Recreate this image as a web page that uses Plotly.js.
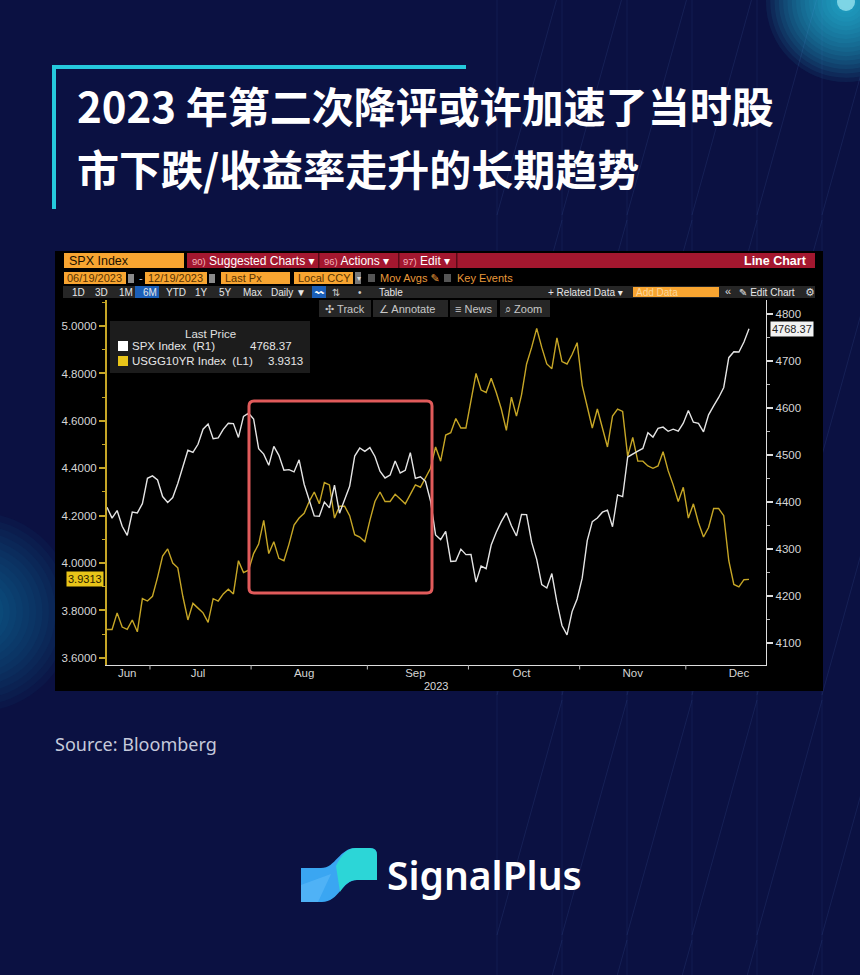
<!DOCTYPE html>
<html><head><meta charset="utf-8">
<script src="https://cdn.plot.ly/plotly-3.0.1.min.js"></script>
<style>html,body{margin:0;padding:0;background:#0b1142;overflow:hidden}#chart{width:860px;height:975px}</style>
</head><body><div id="chart"></div>
<script>
// ---------------- DATA ----------------
const dates = [
 '2023-06-20','2023-06-21','2023-06-22','2023-06-23','2023-06-26','2023-06-27','2023-06-28','2023-06-29','2023-06-30',
 '2023-07-03','2023-07-05','2023-07-06','2023-07-07','2023-07-10','2023-07-11','2023-07-12','2023-07-13','2023-07-14','2023-07-17','2023-07-18','2023-07-19','2023-07-20','2023-07-21','2023-07-24','2023-07-25','2023-07-26','2023-07-27','2023-07-28','2023-07-31',
 '2023-08-01','2023-08-02','2023-08-03','2023-08-04','2023-08-07','2023-08-08','2023-08-09','2023-08-10','2023-08-11','2023-08-14','2023-08-15','2023-08-16','2023-08-17','2023-08-18','2023-08-21','2023-08-22','2023-08-23','2023-08-24','2023-08-25','2023-08-28','2023-08-29','2023-08-30','2023-08-31',
 '2023-09-01','2023-09-05','2023-09-06','2023-09-07','2023-09-08','2023-09-11','2023-09-12','2023-09-13','2023-09-14','2023-09-15','2023-09-18','2023-09-19','2023-09-20','2023-09-21','2023-09-22','2023-09-25','2023-09-26','2023-09-27','2023-09-28','2023-09-29',
 '2023-10-02','2023-10-03','2023-10-04','2023-10-05','2023-10-06','2023-10-09','2023-10-10','2023-10-11','2023-10-12','2023-10-13','2023-10-16','2023-10-17','2023-10-18','2023-10-19','2023-10-20','2023-10-23','2023-10-24','2023-10-25','2023-10-26','2023-10-27','2023-10-30','2023-10-31',
 '2023-11-01','2023-11-02','2023-11-03','2023-11-06','2023-11-07','2023-11-08','2023-11-09','2023-11-10','2023-11-13','2023-11-14','2023-11-15','2023-11-16','2023-11-17','2023-11-20','2023-11-21','2023-11-22','2023-11-24','2023-11-27','2023-11-28','2023-11-29','2023-11-30',
 '2023-12-01','2023-12-04','2023-12-05','2023-12-06','2023-12-07','2023-12-08','2023-12-11','2023-12-12','2023-12-13','2023-12-14','2023-12-15','2023-12-18','2023-12-19'
];
const spx = [
 4388.71,4365.69,4381.89,4348.33,4328.82,4378.41,4376.86,4396.44,4450.38,
 4455.59,4446.82,4411.59,4398.95,4409.53,4439.26,4472.16,4510.04,4505.42,4522.79,4554.98,4565.72,4534.87,4536.34,4554.64,4567.46,4566.75,4537.41,4582.23,4588.96,
 4576.73,4513.39,4501.89,4478.03,4518.44,4499.38,4467.71,4468.83,4464.05,4489.72,4437.86,4404.33,4370.36,4369.71,4399.77,4387.55,4436.01,4376.31,4405.71,4433.31,4497.63,4514.87,4507.66,
 4515.77,4496.83,4465.48,4451.14,4457.49,4487.46,4461.90,4467.44,4505.10,4450.32,4453.53,4443.95,4402.20,4330.00,4320.06,4337.44,4273.53,4274.51,4299.70,4288.05,
 4288.39,4229.45,4263.75,4258.19,4308.50,4335.66,4358.24,4376.95,4349.61,4327.78,4373.63,4373.20,4314.60,4278.00,4224.16,4217.04,4247.68,4186.77,4137.23,4117.37,4166.82,4193.80,
 4237.86,4317.78,4358.34,4365.98,4378.38,4382.78,4347.35,4415.24,4411.55,4495.70,4502.88,4508.24,4514.02,4547.38,4538.19,4556.62,4559.34,4550.43,4554.89,4550.58,4567.80,
 4594.63,4569.78,4567.18,4549.34,4585.59,4604.37,4622.44,4643.70,4707.09,4719.55,4719.19,4740.56,4768.37
];
const ust10y = [
 3.72,3.72,3.79,3.73,3.72,3.76,3.71,3.85,3.84,
 3.86,3.94,4.03,4.06,4.00,3.98,3.86,3.76,3.83,3.81,3.79,3.75,3.85,3.84,3.87,3.89,3.87,4.01,3.96,3.97,
 4.04,4.08,4.18,4.04,4.09,4.02,4.01,4.08,4.16,4.19,4.21,4.26,4.30,4.25,4.34,4.33,4.19,4.24,4.24,4.20,4.12,4.11,4.09,
 4.18,4.26,4.30,4.26,4.26,4.29,4.27,4.25,4.29,4.33,4.32,4.36,4.40,4.49,4.43,4.54,4.55,4.61,4.57,4.57,
 4.68,4.80,4.73,4.72,4.78,4.72,4.65,4.56,4.70,4.62,4.71,4.84,4.91,4.99,4.91,4.84,4.82,4.95,4.85,4.84,4.88,4.93,
 4.75,4.66,4.57,4.65,4.57,4.49,4.62,4.65,4.64,4.45,4.53,4.43,4.43,4.41,4.40,4.41,4.47,4.39,4.33,4.26,4.32,
 4.19,4.25,4.17,4.11,4.15,4.23,4.23,4.20,4.01,3.91,3.90,3.93,3.9313
];
const seriesNames = ['SPX Index  (R1)', 'USGG10YR Index  (L1)'];
const monthNames = ['Jun','Jul','Aug','Sep','Oct','Nov','Dec'];
const yearLabel = '2023';
const titleLines = ['2023 年第二次降评或许加速了当时股', '市下跌/收益率走升的长期趋势'];
const sourceText = 'Source: Bloomberg';
const brandText = 'SignalPlus';

// ---------------- HELPERS ----------------
const W = 860, H = 975;
const X = p => p / W, Y = p => 1 - p / H;
const UI = 'Liberation Sans, Arial, DejaVu Sans, sans-serif';
const CJK = 'Noto Sans CJK SC, Noto Sans, sans-serif';
const shapes = [];
const anns = [];
function rect(x0, y0, x1, y1, fill, layer, line) {
  shapes.push({type:'rect', xref:'paper', yref:'paper', x0:X(x0), x1:X(x1), y0:Y(y1), y1:Y(y0),
    fillcolor:fill, line: line || {width:0}, layer: layer || 'above'});
}
function lineS(x0, y0, x1, y1, color, width, layer) {
  shapes.push({type:'line', xref:'paper', yref:'paper', x0:X(x0), x1:X(x1), y0:Y(y0), y1:Y(y1),
    line:{color:color, width:width}, layer: layer || 'below'});
}
function circ(cx, cy, r, fill, layer) {
  shapes.push({type:'circle', xref:'paper', yref:'paper', x0:X(cx-r), x1:X(cx+r), y0:Y(cy+r), y1:Y(cy-r),
    fillcolor:fill, line:{width:0}, layer: layer || 'below'});
}
function pathPx(cmds) {
  return cmds.map(c => c[0] + c.slice(1).map((v, i) => (i % 2 === 0 ? X(v) : Y(v)).toFixed(5)).join(',')).join(' ');
}
function txt(text, x, y, o) {
  o = o || {};
  anns.push({text:text, xref:'paper', yref:'paper', x:X(x), y:Y(y), xanchor:o.xa || 'left', yanchor:o.ya || 'middle',
    showarrow:false, font:{family:o.family || UI, size:o.size || 11, color:o.color || '#dddddd', weight:o.weight || 400},
    bgcolor:o.bg, borderpad:o.pad || 0});
}

// ---------------- POSTER DECOR ----------------
// smooth glows (many faint layers)
for (let k = 0; k < 18; k++) circ(846, 2, 80 - k * 4.3, 'rgba(45,215,240,0.07)');
circ(846, 2, 9, 'rgba(190,252,255,0.6)');
for (let k = 0; k < 14; k++) circ(-25, 612, 100 - k * 6.5, 'rgba(25,170,200,0.045)');
// faint geometric lines on the right
[497, 562, 627, 692, 757, 822].forEach(x => lineS(x, 0, x, 975, 'rgba(110,150,255,0.08)', 1));
for (let k = 0; k < 6; k++) {
  const x = 497 + 65 * k;
  for (let r = 0; r < 5; r++) {
    const y0 = -20 + r * 240;
    lineS(x + 65, y0, x, y0 + 235, 'rgba(120,170,255,0.10)', 1);
  }
}
// title frame
rect(52, 65, 466, 69, '#25c9dc', 'below');
rect(52, 65, 56, 209, '#25c9dc', 'below');
// ---------------- BLOOMBERG PANEL ----------------
rect(55, 251, 823, 691, '#000000', 'below');
// row 1
rect(64, 253, 184, 268, '#f8a531');
rect(187, 253, 815, 268, '#a3172f');
[318, 398, 456].forEach(x => rect(x, 253, x + 1.5, 268, '#5a0a18'));
// row 2
rect(64, 272, 126, 284, '#f8a531');
rect(128, 274, 134, 283, '#8a8a8a');
rect(145, 272, 207, 284, '#f8a531');
rect(209, 274, 215, 283, '#8a8a8a');
rect(221, 272, 290, 284, '#f8a531');
rect(294, 272, 353, 284, '#f8a531');
rect(355, 272, 361, 284, '#777777');
rect(368, 274, 375, 282, '#555555');
rect(444, 274, 451, 282, '#555555');
// row 3
rect(63, 286, 815, 298, '#262626');
rect(135, 286, 159, 298, '#1b5fb8');
rect(312, 286, 326, 298, '#1b5fb8');
rect(633, 287, 719, 297, '#f8a531');
// row 4 buttons
[[319,371],[373,448],[450,497],[500,550]].forEach(([a,b]) => rect(a, 300, b, 317, '#262626'));
// legend box
rect(110, 321, 310, 373, '#1c1c1c');
rect(118, 341, 128, 351, '#ffffff');
rect(118, 356, 128, 366, '#e8c419');
// red highlight box (rounded)
(function(){
  const x0 = 249, y0 = 401, x1 = 432, y1 = 593, r = 5;
  shapes.push({type:'path', xref:'paper', yref:'paper', layer:'above', line:{color:'#e15b5b', width:3},
    path: pathPx([['M',x0+r,y0],['L',x1-r,y0],['Q',x1,y0,x1,y0+r],['L',x1,y1-r],['Q',x1,y1,x1-r,y1],['L',x0+r,y1],['Q',x0,y1,x0,y1-r],['L',x0,y0+r],['Q',x0,y0,x0+r,y0],['Z']])});
})();
// logo icon
shapes.push({type:'path', xref:'paper', yref:'paper', layer:'above', fillcolor:'#3aa6f2', line:{width:0},
  path: pathPx([['M',301,868],['L',321,868],['C',336,868,339,848,356,848],['L',370,848],['Q',377,848,377,855],['L',377,880],['L',357,880],['C',342,880,339,902,322,902],['L',301,902],['Z']])});
shapes.push({type:'path', xref:'paper', yref:'paper', layer:'above', fillcolor:'rgba(40,230,205,0.75)', line:{width:0},
  path: pathPx([['M',336,866],['C',341,856,346,848,356,848],['L',370,848],['Q',377,848,377,855],['L',377,880],['L',357,880],['C',348,880,344,886,340,892],['Z']])});
shapes.push({type:'path', xref:'paper', yref:'paper', layer:'above', fillcolor:'rgba(120,200,255,0.35)', line:{width:0},
  path: pathPx([['M',301,885],['L',331,874],['L',318,902],['L',301,902],['Z']])});

// ---------------- TEXT ----------------
txt(titleLines[0], 76, 104, {family:CJK, size:42, color:'#ffffff', weight:700});
txt(titleLines[1], 76, 168, {family:CJK, size:42, color:'#ffffff', weight:700});
txt(sourceText, 54, 744, {family:'Noto Sans, sans-serif', size:18, color:'#c5cadb'});
txt(brandText, 386, 874, {family:'Noto Sans, sans-serif', size:39, color:'#ffffff', weight:600});

// toolbar texts
txt('SPX Index', 68, 261, {size:12.5, color:'#1a1000'});
txt('<span style="font-size:9.5px;color:#f3b3bb">90)</span> Suggested Charts ▾', 191, 261, {size:12, color:'#ffffff'});
txt('<span style="font-size:9.5px;color:#f3b3bb">96)</span> Actions ▾', 323, 261, {size:12, color:'#ffffff'});
txt('<span style="font-size:9.5px;color:#f3b3bb">97)</span> Edit ▾', 402, 261, {size:12, color:'#ffffff'});
txt('Line Chart', 808, 261, {xa:'right', size:12.5, color:'#ffffff', weight:700});
txt('06/19/'+yearLabel, 66, 278, {size:11, color:'#5a3300'});
txt('-', 138, 278, {size:11, color:'#cccccc'});
txt('12/19/'+yearLabel, 147, 278, {size:11, color:'#5a3300'});
txt('Last Px', 224, 278, {size:11, color:'#5a3300'});
txt('Local CCY', 297, 278, {size:11, color:'#5a3300'});
txt('▾', 356, 278, {size:8, color:'#dddddd'});
txt('Mov Avgs ✎', 379, 278, {size:11, color:'#e8993a'});
txt('Key Events', 456, 278, {size:11, color:'#e8993a'});
const periods = [['1D',71],['3D',94],['1M',118],['6M',142],['YTD',165],['1Y',194],['5Y',218],['Max',242],['Daily ▼',270]];
periods.forEach(([t,x]) => txt(t, x, 292, {size:10, color:'#e8e8e8'}));
txt('⇅', 331, 292, {size:10, color:'#cccccc'});
txt('•', 357, 292, {size:10, color:'#cccccc'});
txt('Table', 378, 292, {size:10, color:'#e8e8e8'});
txt('〰', 313, 292, {size:9, color:'#ffffff'});
txt('+ Related Data ▾', 547, 292, {size:10, color:'#e8e8e8'});
txt('Add Data', 635, 292, {size:10, color:'#fbd79a'});
txt('«', 724, 291, {size:11, color:'#dddddd'});
txt('✎ Edit Chart', 738, 292, {size:10, color:'#e8e8e8'});
txt('⚙', 804, 292, {size:11, color:'#dddddd'});
[['✣ Track',324],['∠ Annotate',378],['≡ News',454],['⌕ Zoom',504]].forEach(([t,x]) => txt(t, x, 308.5, {size:11, color:'#c8c8c8'}));
// legend text
txt('Last Price', 210, 334, {xa:'center', size:11.5, color:'#e0e0e0'});
txt(seriesNames[0], 131, 346, {size:11.5, color:'#e6e6e6'});
txt(seriesNames[1], 131, 361, {size:11.5, color:'#e6e6e6'});
txt(spx[spx.length-1].toFixed(2), 293, 346, {xa:'right', size:11.5, color:'#e6e6e6'});
txt(ust10y[ust10y.length-1].toFixed(4), 304, 361, {xa:'right', size:11.5, color:'#e6e6e6'});
txt(yearLabel, 436, 686, {xa:'center', size:11, color:'#d8d8d8'});

// last value tags on the axes (data coords)
anns.push({text:ust10y[ust10y.length-1].toFixed(4), xref:'paper', yref:'y', x:X(104), y:ust10y[ust10y.length-1],
  xanchor:'right', yanchor:'middle', showarrow:false, bgcolor:'#e8c419', borderpad:1,
  font:{family:UI, size:11, color:'#2a2200'}});
anns.push({text:spx[spx.length-1].toFixed(2), xref:'paper', yref:'y2', x:X(770), y:spx[spx.length-1],
  xanchor:'left', yanchor:'middle', showarrow:false, bgcolor:'#f2f2f2', borderpad:1,
  font:{family:UI, size:11, color:'#222222'}});

// ---------------- AXES FROM DATA ----------------
const idx = dates.map((d, i) => i);
const monthOf = d => d.slice(0, 7);
const bounds = [];
for (let i = 1; i < dates.length; i++) if (monthOf(dates[i]) !== monthOf(dates[i-1])) bounds.push(i - 0.5);
const months = [...new Set(dates.map(monthOf))];
const labelPos = months.map(m => {
  const ii = idx.filter(i => monthOf(dates[i]) === m);
  if (+dates[ii[0]].slice(8) > 15) return (ii[0] + ii[ii.length-1]) / 2;
  return ii.find(i => +dates[i].slice(8) >= 15);
});
const xRange = [-0.1, dates.length - 1 + 3.36];
// month boundary tick marks (below the axis line)
bounds.forEach(b => shapes.push({type:'line', xref:'x', yref:'paper', x0:b, x1:b, y0:Y(665), y1:Y(669.5),
  line:{color:'#bbbbbb', width:1}, layer:'above'}));

const traces = [
  {x: idx, y: ust10y, type:'scatter', mode:'lines', name: seriesNames[1], xaxis:'x', yaxis:'y',
   line:{color:'#c6a626', width:1.4}, hoverinfo:'skip'},
  {x: idx, y: spx, type:'scatter', mode:'lines', name: seriesNames[0], xaxis:'x', yaxis:'y2',
   line:{color:'#e4e4e4', width:1.4}, hoverinfo:'skip'}
];

const dom = {x:[X(106.5), X(766)], y:[Y(665), Y(300)]};
const layout = {
  width: W, height: H, margin:{l:0, r:0, t:0, b:0},
  paper_bgcolor:'#0b1142', plot_bgcolor:'#000000', showlegend:false,
  xaxis:{domain:dom.x, range:xRange, tickmode:'array', tickvals:labelPos, ticktext:monthNames,
    ticks:'', showline:true, linecolor:'#dddddd', linewidth:1.2, ticklabelstandoff:-3,
    showgrid:false, zeroline:false, anchor:'y', tickfont:{family:UI, size:11.5, color:'#d4d4d4'}},
  yaxis:{domain:dom.y, range:[3.570, 5.110], tick0:3.6, dtick:0.2, tickformat:'.4f', side:'left',
    ticks:'outside', ticklen:6, tickwidth:2, tickcolor:'#c6a626', showline:true, linecolor:'#c6a626', linewidth:1.5,
    minor:{tick0:3.6, dtick:0.1, ticks:'outside', ticklen:3, tickcolor:'#c6a626', tickwidth:1},
    showgrid:false, zeroline:false, anchor:'x', tickfont:{family:UI, size:11.5, color:'#d6d6d6'}},
  yaxis2:{overlaying:'y', side:'right', range:[4053.2, 4829.8], tick0:4100, dtick:100,
    ticks:'outside', ticklen:6, tickwidth:1.5, tickcolor:'#dddddd', showline:true, linecolor:'#dddddd', linewidth:1.2,
    minor:{tick0:4100, dtick:50, ticks:'outside', ticklen:3, tickcolor:'#bbbbbb', tickwidth:1},
    showgrid:false, zeroline:false, anchor:'x', tickfont:{family:UI, size:11.5, color:'#d6d6d6'}},
  shapes: shapes,
  annotations: anns
};
Plotly.newPlot('chart', traces, layout, {displayModeBar:false, staticPlot:true});
</script></body></html>
